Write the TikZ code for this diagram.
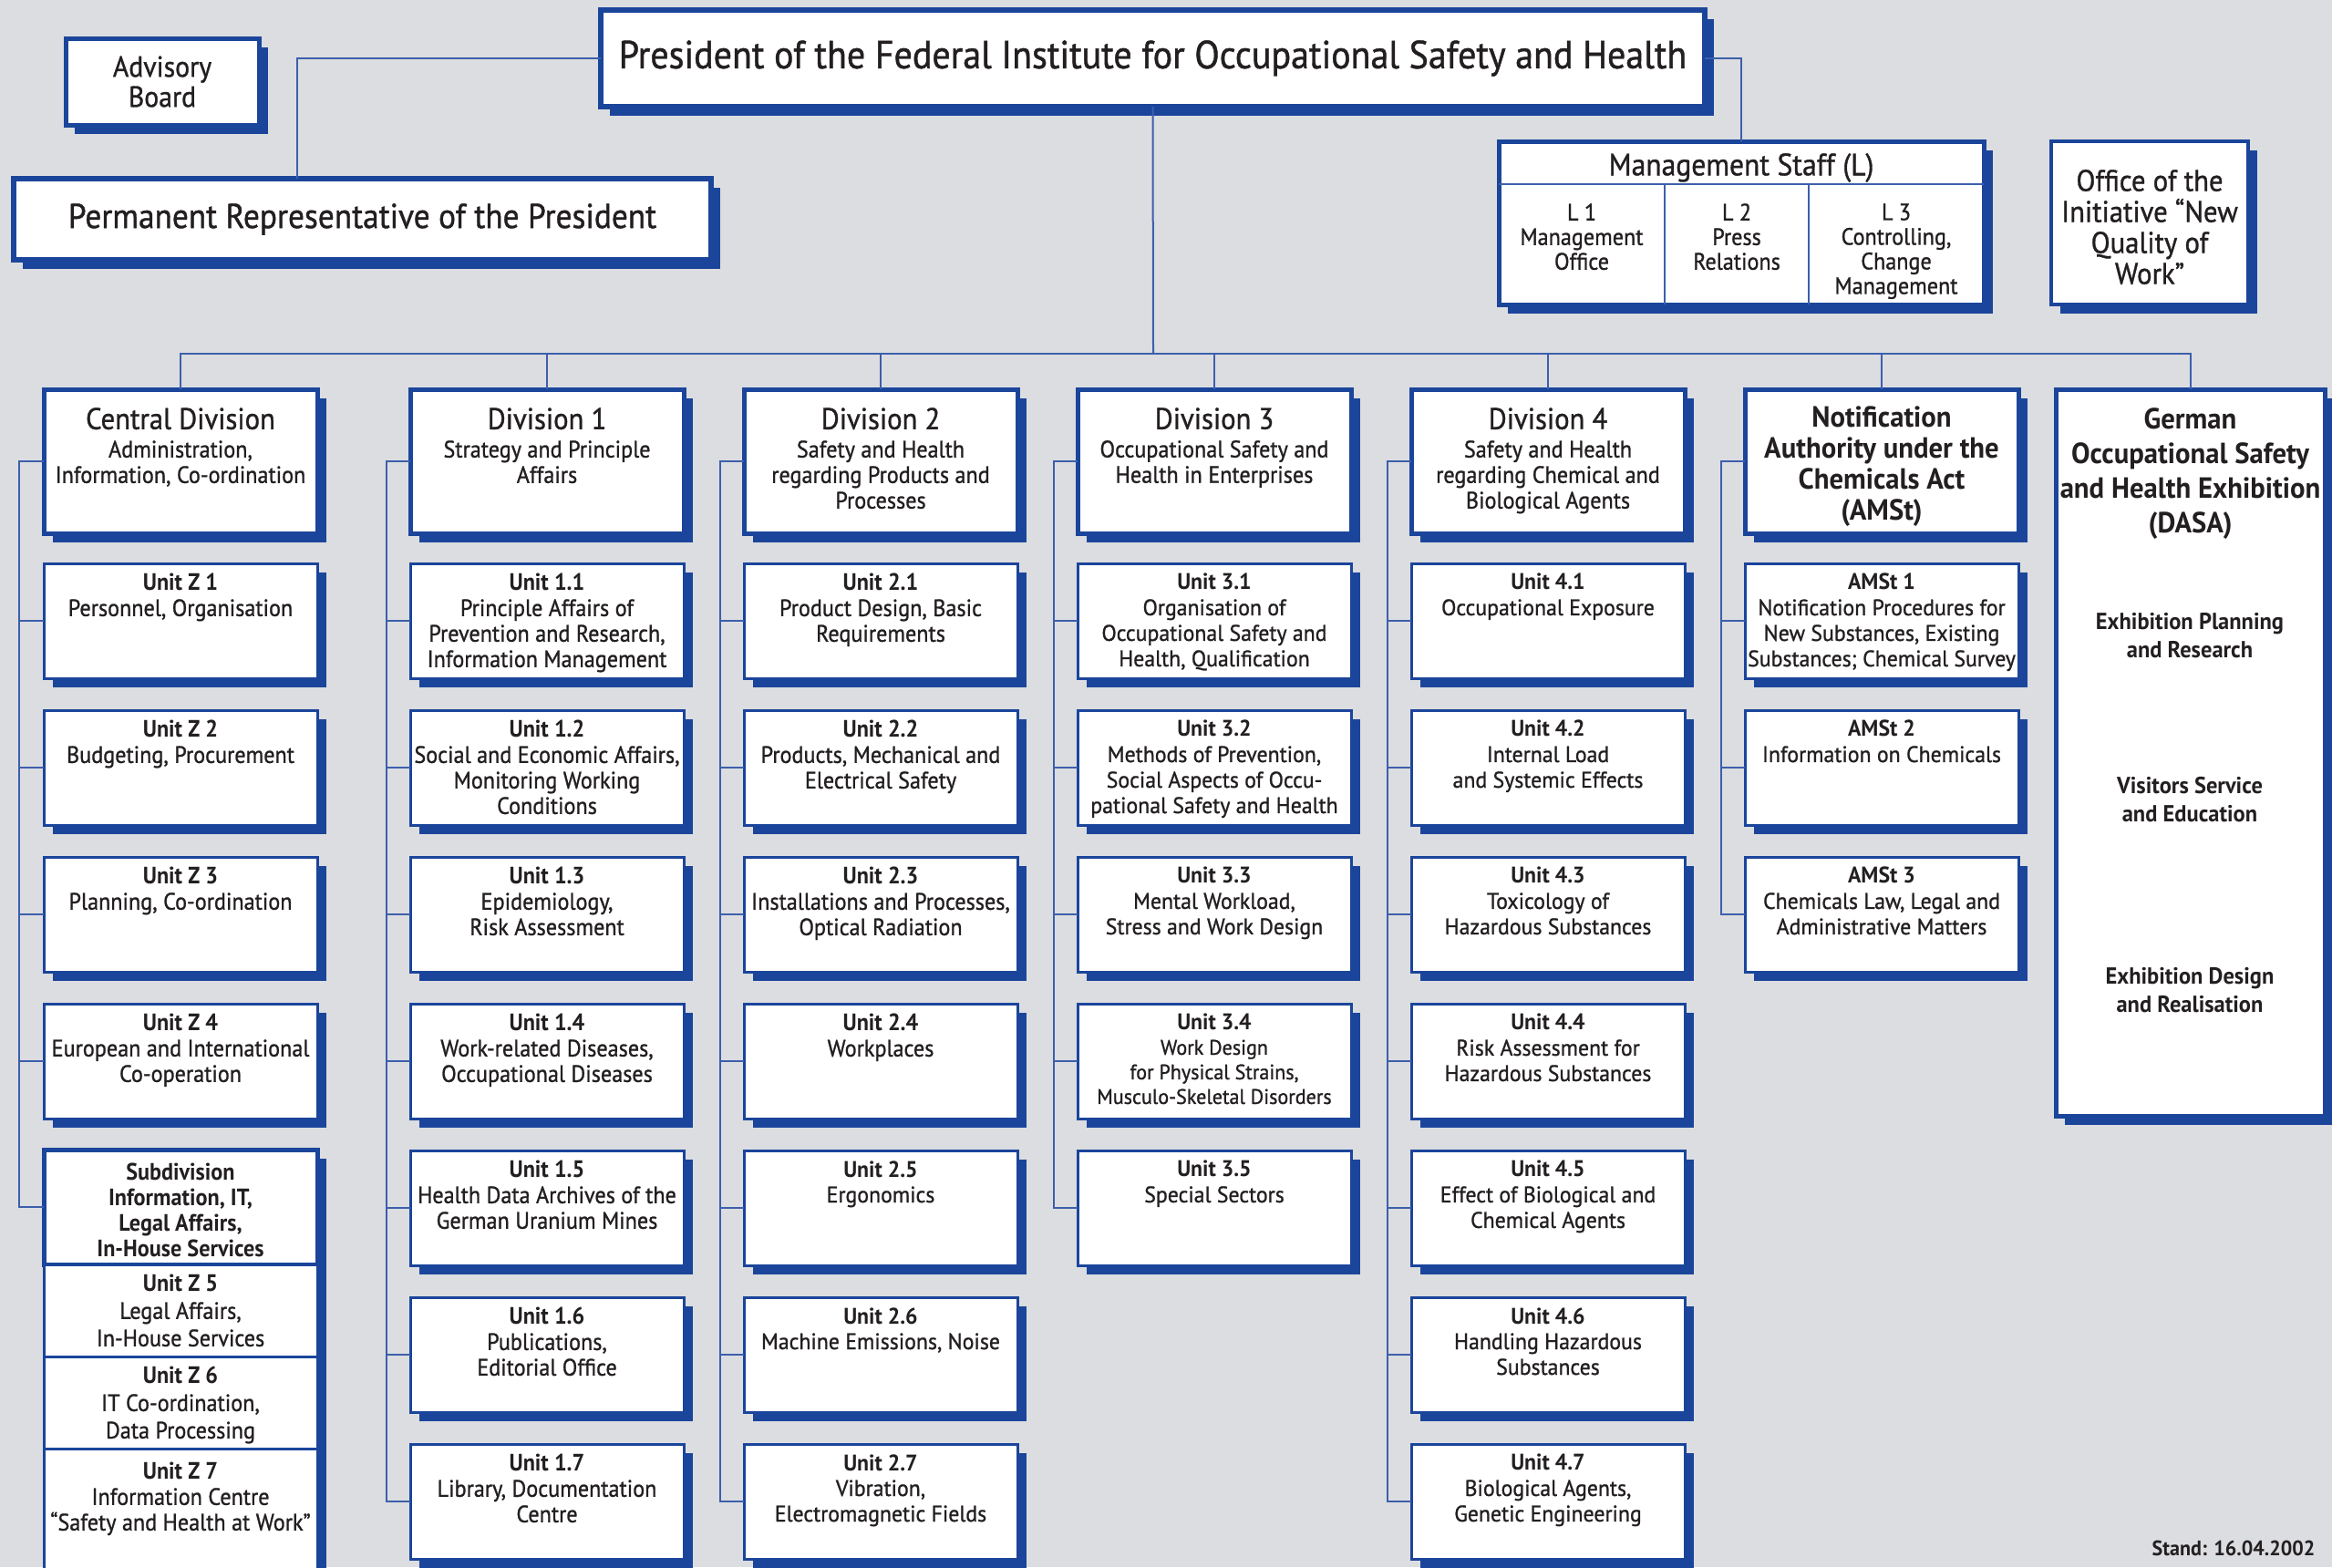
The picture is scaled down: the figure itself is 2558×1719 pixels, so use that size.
\documentclass[tikz,border=0pt]{standalone}
\usepackage{fontspec}
\setmainfont{PT Sans}[FakeStretch=0.93, UprightFeatures={FakeBold=1.0}]
\newfontfamily\widefont{PT Sans}[FakeStretch=0.96, UprightFeatures={FakeBold=1.0}]
\usetikzlibrary{shadows}

\definecolor{bsblue}{RGB}{27,69,155}
\definecolor{bsgrey}{RGB}{220,221,224}
\definecolor{bsline}{RGB}{60,95,172}
\definecolor{bstext}{RGB}{35,31,32}

\newcommand\unitsize{\fontsize{26}{28}\selectfont}
\newcommand\widesize{\widefont\fontsize{24.8}{28}\selectfont}
\newcommand\divtitle[1]{{\fontsize{33}{34}\selectfont #1}\\[3pt]}

\tikzset{every picture/.style={line width=0.55pt}}
\tikzset{
  box/.style={draw=bsblue, fill=white, anchor=north west, inner sep=0pt, outer sep=0pt,
    drop shadow={shadow xshift=10pt, shadow yshift=-10pt, opacity=1, fill=bsblue}},
  bigbox/.style={box, line width=6pt, align=center, text=bstext},
  divbox/.style={box, line width=5pt, minimum width=300pt, minimum height=158pt},
  unitbox/.style={box, line width=3pt, minimum width=300pt, minimum height=126pt},
  toptext/.style={anchor=north, align=center, inner sep=0pt, text=bstext},
  utext/.style={toptext, inner ysep=11pt, font=\unitsize},
  wtext/.style={toptext, inner ysep=11pt, font=\widesize},
  dtext/.style={toptext, inner ysep=20pt, font=\unitsize},
  link/.style={draw=bsline, line width=2pt},
}

\begin{document}
\begin{tikzpicture}[x=1pt,y=1pt,yscale=-1,xscale=1]
%set diagram to the size of the sheet
\useasboundingbox (0,0) rectangle (2558,1719);
\fill[bsgrey] (0,0) rectangle (2558,1719);

%Shape: Rectangle [president]
\node[bigbox, minimum width=1211pt, minimum height=106pt, font=\fontsize{43}{46}\selectfont] (pres) at (659,11) {President of the Federal Institute for Occupational Safety and Health};
%Shape: Rectangle [advisory board]
\node[bigbox, line width=5pt, minimum width=212pt, minimum height=95pt, font=\fontsize{32}{33}\selectfont] (adv) at (72,42) {Advisory\\Board};
%Shape: Rectangle [permanent representative]
\node[bigbox, minimum width=765pt, minimum height=89pt, font=\fontsize{38}{40}\selectfont] (perm) at (15,196) {Permanent Representative of the President};
%Shape: Rectangle [management staff]
\node[bigbox, line width=5pt, minimum width=532pt, minimum height=179pt] (mgmt) at (1644,155) {};
\draw[link] (1644,202) -- (2176,202);
\draw[link] (1826,202) -- (1826,334);
\draw[link] (1984,202) -- (1984,334);
% Text Node
\node[text=bstext, font=\fontsize{34}{36}\selectfont] (mgmtT) at (1910,184) {Management Staff (L)};
% Text Node
\node[toptext, font=\fontsize{26}{27}\selectfont] (mgmtL1) at (1735,223) {L 1\\Management\\Office};
% Text Node
\node[toptext, font=\fontsize{26}{27}\selectfont] (mgmtL2) at (1905,223) {L 2\\Press\\Relations};
% Text Node
\node[toptext, font=\fontsize{26}{27}\selectfont] (mgmtL3) at (2080,223) {L 3\\Controlling,\\Change\\Management};
%Shape: Rectangle [office of the initiative]
\node[bigbox, line width=4pt, minimum width=216pt, minimum height=179pt] (inqa) at (2250,155) {};
% Text Node
\node[toptext, anchor=center, font=\fontsize{33}{34}\selectfont] (inqaT) at (2358,249) {Office of the\\Initiative “New\\Quality of\\Work”};

%Straight Lines [top connectors]
\coordinate (bus) at (1265,388);
\draw[link] (pres.west) -| ([xshift=-72pt]perm.north);
\draw[link] (pres.east) -| (mgmt.north);
\draw[link] (pres.south) -- (bus);

%%% Central Division
\node[divbox, label={[dtext]north:{\divtitle{Central Division}Administration,\\Information, Co-ordination}}] (d0) at (48,427) {};
\node[unitbox, label={[utext]north:{\textbf{Unit Z 1}\\Personnel, Organisation}}] (z1) at (48,618) {};
\node[unitbox, label={[utext]north:{\textbf{Unit Z 2}\\Budgeting, Procurement}}] (z2) at (48,779) {};
\node[unitbox, label={[utext]north:{\textbf{Unit Z 3}\\Planning, Co-ordination}}] (z3) at (48,940) {};
\node[unitbox, label={[utext]north:{\textbf{Unit Z 4}\\European and International\\Co-operation}}] (z4) at (48,1101) {};
\node[unitbox, line width=5pt, label={[utext, inner ysep=15pt, font=\unitsize\bfseries]north:{Subdivision\\Information, IT,\\Legal Affairs,\\In-House Services}}] (sub) at (48,1261) {};
\node[unitbox, minimum height=101pt, label={[utext, font=\fontsize{26}{30}\selectfont]north:{\textbf{Unit Z 5}\\Legal Affairs,\\In-House Services}}] (z5) at (48,1387) {};
\node[unitbox, minimum height=101pt, label={[utext, font=\fontsize{26}{30}\selectfont]north:{\textbf{Unit Z 6}\\IT Co-ordination,\\Data Processing}}] (z6) at (48,1488) {};
\node[unitbox, minimum height=150pt, label={[utext, inner ysep=15pt]north:{\textbf{Unit Z 7}\\Information Centre\\“Safety and Health at Work”}}] (z7) at (48,1589) {};

%%% Division 1
\node[divbox, label={[dtext]north:{\divtitle{Division 1}Strategy and Principle\\Affairs}}] (d1) at (450,427) {};
\node[unitbox, label={[utext]north:{\textbf{Unit 1.1}\\Principle Affairs of\\Prevention and Research,\\Information Management}}] (u11) at (450,618) {};
\node[unitbox, label={[utext]north:{\textbf{Unit 1.2}\\Social and Economic Affairs,\\Monitoring Working\\Conditions}}] (u12) at (450,779) {};
\node[unitbox, label={[utext]north:{\textbf{Unit 1.3}\\Epidemiology,\\Risk Assessment}}] (u13) at (450,940) {};
\node[unitbox, label={[utext]north:{\textbf{Unit 1.4}\\Work-related Diseases,\\Occupational Diseases}}] (u14) at (450,1101) {};
\node[unitbox, label={[utext]north:{\textbf{Unit 1.5}\\Health Data Archives of the\\German Uranium Mines}}] (u15) at (450,1262) {};
\node[unitbox, label={[utext]north:{\textbf{Unit 1.6}\\Publications,\\Editorial Office}}] (u16) at (450,1423) {};
\node[unitbox, label={[utext]north:{\textbf{Unit 1.7}\\Library, Documentation\\Centre}}] (u17) at (450,1584) {};

%%% Division 2
\node[divbox, label={[dtext]north:{\divtitle{Division 2}Safety and Health\\regarding Products and\\Processes}}] (d2) at (816,427) {};
\node[unitbox, label={[utext]north:{\textbf{Unit 2.1}\\Product Design, Basic\\Requirements}}] (u21) at (816,618) {};
\node[unitbox, label={[utext]north:{\textbf{Unit 2.2}\\Products, Mechanical and\\Electrical Safety}}] (u22) at (816,779) {};
\node[unitbox, label={[utext]north:{\textbf{Unit 2.3}\\Installations and Processes,\\Optical Radiation}}] (u23) at (816,940) {};
\node[unitbox, label={[utext]north:{\textbf{Unit 2.4}\\Workplaces}}] (u24) at (816,1101) {};
\node[unitbox, label={[wtext]north:{\textbf{Unit 2.5}\\Ergonomics}}] (u25) at (816,1262) {};
\node[unitbox, label={[wtext]north:{\textbf{Unit 2.6}\\Machine Emissions, Noise}}] (u26) at (816,1423) {};
\node[unitbox, label={[wtext]north:{\textbf{Unit 2.7}\\Vibration,\\Electromagnetic Fields}}] (u27) at (816,1584) {};

%%% Division 3
\node[divbox, label={[dtext]north:{\divtitle{Division 3}Occupational Safety and\\Health in Enterprises}}] (d3) at (1182,427) {};
\node[unitbox, label={[wtext]north:{\textbf{Unit 3.1}\\Organisation of\\Occupational Safety and\\Health, Qualification}}] (u31) at (1182,618) {};
\node[unitbox, label={[wtext]north:{\textbf{Unit 3.2}\\Methods of Prevention,\\Social Aspects of Occu-\\pational Safety and Health}}] (u32) at (1182,779) {};
\node[unitbox, label={[wtext]north:{\textbf{Unit 3.3}\\Mental Workload,\\Stress and Work Design}}] (u33) at (1182,940) {};
\node[unitbox, label={[wtext, font=\widefont\fontsize{23}{27}\selectfont]north:{{\fontsize{24.8}{27}\selectfont\textbf{Unit 3.4}}\\Work Design\\for Physical Strains,\\Musculo-Skeletal Disorders}}] (u34) at (1182,1101) {};
\node[unitbox, label={[wtext]north:{\textbf{Unit 3.5}\\Special Sectors}}] (u35) at (1182,1262) {};

%%% Division 4
\node[divbox, label={[dtext]north:{\divtitle{Division 4}Safety and Health\\regarding Chemical and\\Biological Agents}}] (d4) at (1548,427) {};
\node[unitbox, label={[wtext]north:{\textbf{Unit 4.1}\\Occupational Exposure}}] (u41) at (1548,618) {};
\node[unitbox, label={[wtext]north:{\textbf{Unit 4.2}\\Internal Load\\and Systemic Effects}}] (u42) at (1548,779) {};
\node[unitbox, label={[wtext]north:{\textbf{Unit 4.3}\\Toxicology of\\Hazardous Substances}}] (u43) at (1548,940) {};
\node[unitbox, label={[wtext]north:{\textbf{Unit 4.4}\\Risk Assessment for\\Hazardous Substances}}] (u44) at (1548,1101) {};
\node[unitbox, label={[wtext]north:{\textbf{Unit 4.5}\\Effect of Biological and\\Chemical Agents}}] (u45) at (1548,1262) {};
\node[unitbox, label={[wtext]north:{\textbf{Unit 4.6}\\Handling Hazardous\\Substances}}] (u46) at (1548,1423) {};
\node[unitbox, label={[wtext]north:{\textbf{Unit 4.7}\\Biological Agents,\\Genetic Engineering}}] (u47) at (1548,1584) {};

%%% Notification Authority
\node[divbox, label={[wtext, inner ysep=18pt, font=\widefont\fontsize{32}{34}\selectfont\bfseries]north:{Notification\\Authority under the\\Chemicals Act\\(AMSt)}}] (d5) at (1914,427) {};
\node[unitbox, label={[wtext]north:{\textbf{AMSt 1}\\Notification Procedures for\\New Substances, Existing\\Substances; Chemical Survey}}] (a1) at (1914,618) {};
\node[unitbox, label={[wtext]north:{\textbf{AMSt 2}\\Information on Chemicals}}] (a2) at (1914,779) {};
\node[unitbox, label={[wtext]north:{\textbf{AMSt 3}\\Chemicals Law, Legal and\\Administrative Matters}}] (a3) at (1914,940) {};

%%% DASA
\node[divbox, minimum width=295pt, minimum height=797pt, label={[wtext, inner ysep=20pt, font=\widefont\fontsize{32}{38}\selectfont\bfseries]north:{German\\Occupational Safety\\and Health Exhibition\\(DASA)}}] (dasa) at (2255,427) {};
% Text Node
\node[toptext, anchor=center, font=\widefont\fontsize{25.5}{31}\selectfont\bfseries] (dasa1) at (2402,697) {Exhibition Planning\\and Research};
% Text Node
\node[toptext, anchor=center, font=\widefont\fontsize{25.5}{31}\selectfont\bfseries] (dasa2) at (2402,877) {Visitors Service\\and Education};
% Text Node
\node[toptext, anchor=center, font=\widefont\fontsize{25.5}{31}\selectfont\bfseries] (dasa3) at (2402,1086) {Exhibition Design\\and Realisation};

%Straight Lines [bus to divisions]
\draw[link] (d0.north) |- (bus) -| (dasa.north);
\draw[link] (d1.north) -- (d1.north |- bus);
\draw[link] (d2.north) -- (d2.north |- bus);
\draw[link] (d3.north) -- (d3.north |- bus);
\draw[link] (d4.north) -- (d4.north |- bus);
\draw[link] (d5.north) -- (d5.north |- bus);

%Straight Lines [central division]
\draw[link] (d0.west) -- ++(-27,0) |- (z1.west);
\draw[link] (d0.west) -- ++(-27,0) |- (z2.west);
\draw[link] (d0.west) -- ++(-27,0) |- (z3.west);
\draw[link] (d0.west) -- ++(-27,0) |- (z4.west);
\draw[link] (d0.west) -- ++(-27,0) |- (sub.west);
%Straight Lines [division 1]
\draw[link] (d1.west) -- ++(-26,0) |- (u11.west);
\draw[link] (d1.west) -- ++(-26,0) |- (u12.west);
\draw[link] (d1.west) -- ++(-26,0) |- (u13.west);
\draw[link] (d1.west) -- ++(-26,0) |- (u14.west);
\draw[link] (d1.west) -- ++(-26,0) |- (u15.west);
\draw[link] (d1.west) -- ++(-26,0) |- (u16.west);
\draw[link] (d1.west) -- ++(-26,0) |- (u17.west);
%Straight Lines [division 2]
\draw[link] (d2.west) -- ++(-26,0) |- (u21.west);
\draw[link] (d2.west) -- ++(-26,0) |- (u22.west);
\draw[link] (d2.west) -- ++(-26,0) |- (u23.west);
\draw[link] (d2.west) -- ++(-26,0) |- (u24.west);
\draw[link] (d2.west) -- ++(-26,0) |- (u25.west);
\draw[link] (d2.west) -- ++(-26,0) |- (u26.west);
\draw[link] (d2.west) -- ++(-26,0) |- (u27.west);
%Straight Lines [division 3]
\draw[link] (d3.west) -- ++(-26,0) |- (u31.west);
\draw[link] (d3.west) -- ++(-26,0) |- (u32.west);
\draw[link] (d3.west) -- ++(-26,0) |- (u33.west);
\draw[link] (d3.west) -- ++(-26,0) |- (u34.west);
\draw[link] (d3.west) -- ++(-26,0) |- (u35.west);
%Straight Lines [division 4]
\draw[link] (d4.west) -- ++(-26,0) |- (u41.west);
\draw[link] (d4.west) -- ++(-26,0) |- (u42.west);
\draw[link] (d4.west) -- ++(-26,0) |- (u43.west);
\draw[link] (d4.west) -- ++(-26,0) |- (u44.west);
\draw[link] (d4.west) -- ++(-26,0) |- (u45.west);
\draw[link] (d4.west) -- ++(-26,0) |- (u46.west);
\draw[link] (d4.west) -- ++(-26,0) |- (u47.west);
%Straight Lines [notification authority]
\draw[link] (d5.west) -- ++(-26,0) |- (a1.west);
\draw[link] (d5.west) -- ++(-26,0) |- (a2.west);
\draw[link] (d5.west) -- ++(-26,0) |- (a3.west);

% Text Node
\node[anchor=east, text=bstext, font=\widefont\fontsize{23}{26}\selectfont\bfseries] (stand) at (2543,1698) {Stand: 16.04.2002};
\end{tikzpicture}
\end{document}
